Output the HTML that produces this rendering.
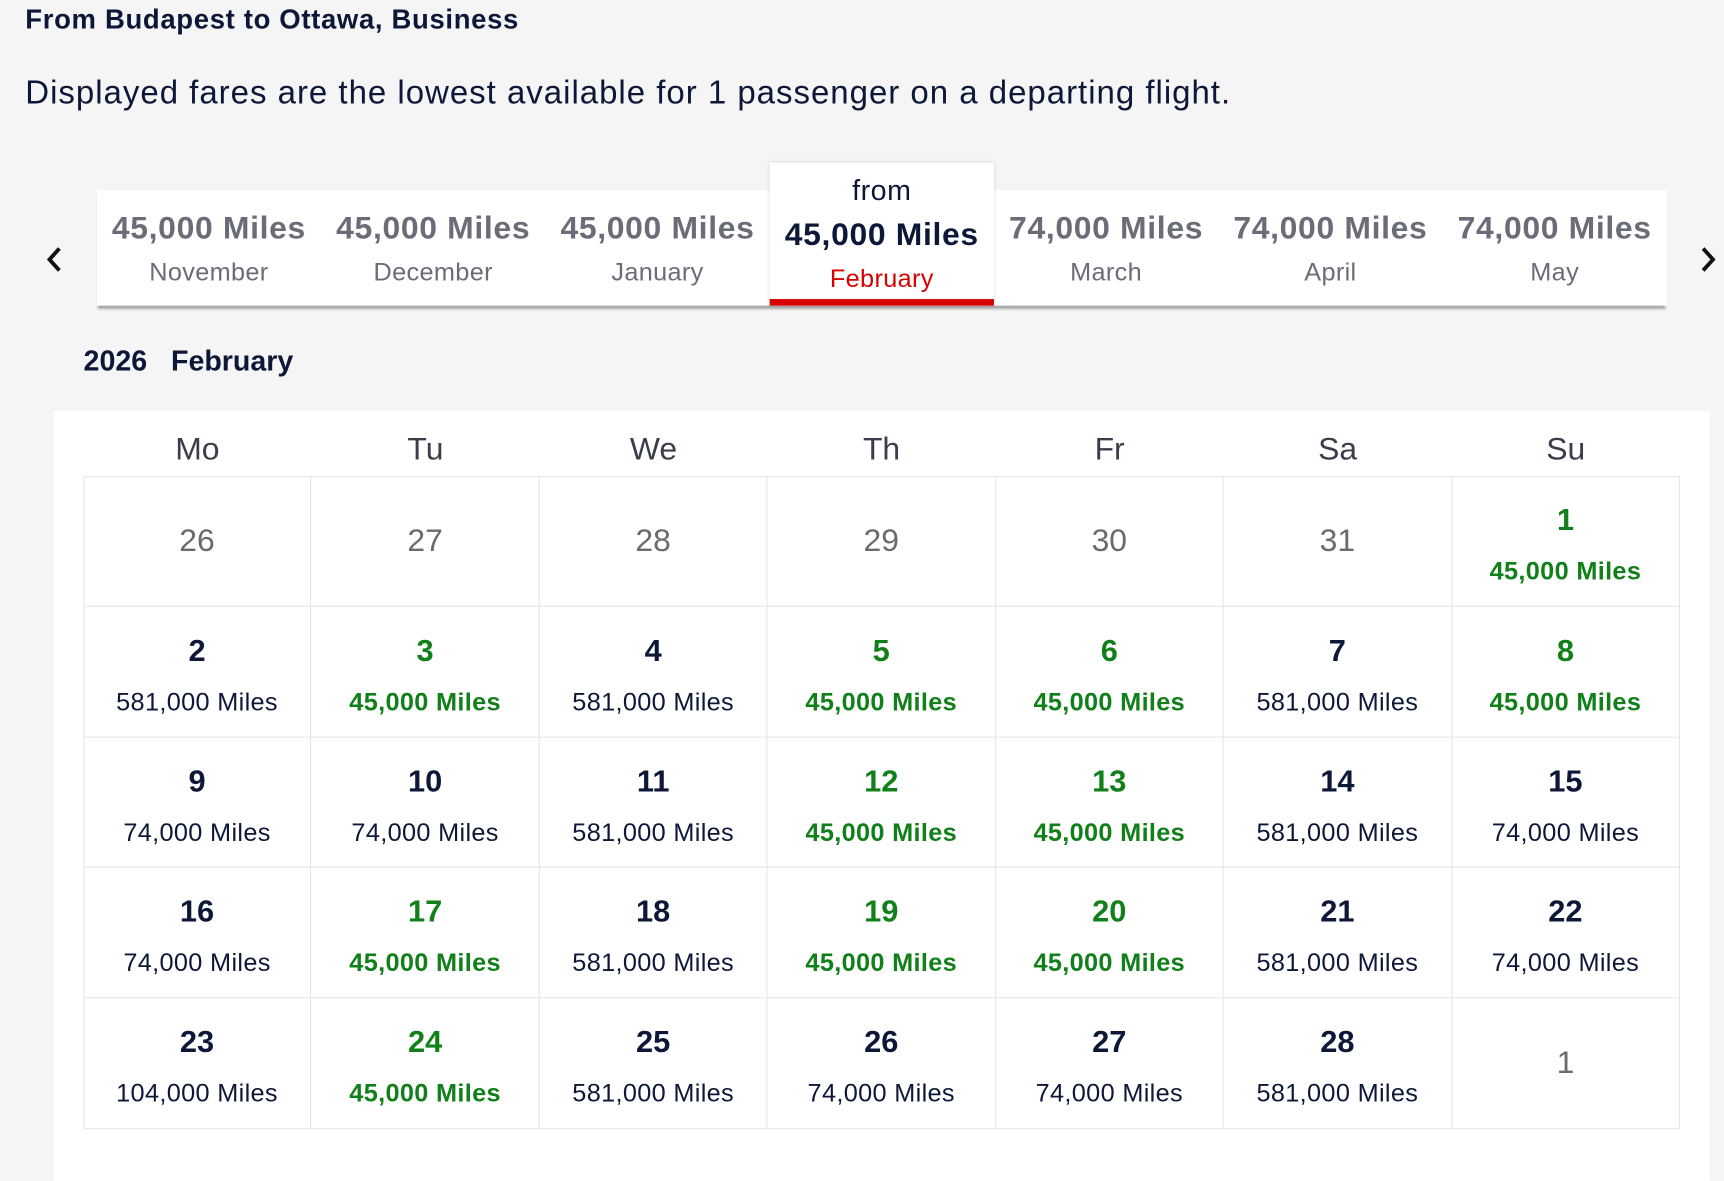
<!DOCTYPE html>
<html><head><meta charset="utf-8">
<style>
html,body{margin:0;padding:0;background:#f5f5f5;width:1724px;height:1158px;overflow:hidden;font-family:"Liberation Sans",sans-serif;}
#wrap{position:absolute;left:0;top:0;width:1568px;height:1053px;transform:scale(1.09949);transform-origin:0 0;}
.abs{position:absolute;}
.navy{color:#0d1738;}
.green{color:#11801a;}
.tab{position:absolute;top:173px;width:204px;height:105px;text-align:center;}
.tab .m{position:absolute;left:0;right:0;top:19px;font-size:29px;font-weight:bold;color:#6a6d78;letter-spacing:0.6px;white-space:nowrap;}
.tab .n{position:absolute;left:0;right:0;top:61px;font-size:23px;color:#6a6d78;letter-spacing:0.3px;}
.cell{position:absolute;text-align:center;box-sizing:border-box;border-right:1px solid #e6e6e6;border-bottom:1px solid #e6e6e6;}
.cell .d{position:absolute;left:0;right:0;top:24px;font-size:28px;font-weight:bold;}
.cell .p{position:absolute;left:0;right:0;top:73px;font-size:23px;letter-spacing:0.3px;white-space:nowrap;}
.cell .o{position:absolute;left:0;right:0;top:43px;font-size:29px;color:#6b6b6b;}
.dn{position:absolute;top:393px;width:207px;text-align:center;font-size:29px;color:#3a3d4a;}
</style></head><body>
<div id="wrap">
<div class="abs navy" style="left:23px;top:4px;font-size:25px;font-weight:bold;letter-spacing:0.6px;">From Budapest to Ottawa, Business</div>
<div class="abs navy" style="left:23px;top:68px;font-size:30px;letter-spacing:0.9px;">Displayed fares are the lowest available for 1 passenger on a departing flight.</div>

<div class="abs" style="left:88px;top:173px;width:1428px;height:105px;background:#fff;box-shadow:0 4px 2px -1px #a8a8a8;"></div>
<svg class="abs" style="left:40px;top:223px" width="20" height="28"><polyline points="14,3 5,13 14,23" fill="none" stroke="#111" stroke-width="3.5"/></svg>
<svg class="abs" style="left:1544px;top:223px" width="20" height="28"><polyline points="5,3 14,13 5,23" fill="none" stroke="#111" stroke-width="3.5"/></svg>

<div class="abs navy" style="left:76px;top:313px;font-size:26px;font-weight:bold;">2026&nbsp;&nbsp;&nbsp;February</div>

<div class="abs" style="left:49px;top:374px;width:1506px;height:700px;background:#fff;"></div>
</div>
<script>
const months=["November","December","January","February","March","April","May"];
const monthMiles=["45,000","45,000","45,000","45,000","74,000","74,000","74,000"];
const activeMonth=3;
const dayNames=["Mo","Tu","We","Th","Fr","Sa","Su"];
const prevDays=[26,27,28,29,30,31];
const fares=[45000,581000,45000,581000,45000,45000,581000,45000,74000,74000,581000,45000,45000,581000,74000,74000,45000,581000,45000,45000,581000,74000,104000,45000,581000,74000,74000,581000];
const low=45000;

const wrap=document.getElementById('wrap');
months.forEach((m,i)=>{
  const t=document.createElement('div');
  t.className='tab';
  
  
  t.style.left=(88+i*204)+'px';
  if(i===activeMonth){
    t.style.top='148px';t.style.height='130px';t.style.background='#fff';t.style.boxShadow='0 0 4px rgba(0,0,0,0.12)';t.style.left='700px';
    t.innerHTML='<div style="position:absolute;left:0;right:0;top:10px;font-size:26px;color:#0d1738;letter-spacing:0.5px">from</div><div class="m" style="top:50px;color:#0d1738">'+monthMiles[i]+' Miles</div><div class="n" style="top:92px;color:#d90000">'+m+'</div><div style="position:absolute;left:0;right:0;bottom:0;height:6px;background:#d90000"></div>';
  } else {
    if(i>activeMonth) t.style.left=(904+(i-activeMonth-1)*204)+'px';
    t.innerHTML='<div class="m">'+monthMiles[i]+' Miles</div><div class="n">'+m+'</div>';
  }
  wrap.appendChild(t);
});
const X0=76,CW=207.43,Y0=433,RH=118.8;
dayNames.forEach((d,i)=>{
  const e=document.createElement('div');e.className='dn';
  
  
  e.style.left=(X0+i*CW)+'px';e.textContent=d;wrap.appendChild(e);
});
const g=document.createElement('div');g.className='abs';


g.style.cssText='left:76px;top:433px;width:1452px;height:594px;border-top:1px solid #e6e6e6;border-left:1px solid #e6e6e6;box-sizing:border-box;';
wrap.appendChild(g);
const cells=[];
prevDays.forEach(d=>cells.push({o:d}));
fares.forEach((f,i)=>cells.push({d:i+1,f:f}));
cells.push({o:1});
cells.forEach((c,k)=>{
  const r=Math.floor(k/7),col=k%7;
  const e=document.createElement('div');e.className='cell';
  e.style.left=(X0+col*CW)+'px';e.style.top=(Y0+r*RH)+'px';e.style.width=CW+'px';e.style.height=RH+'px';
  if(c.o!==undefined){
    
    
    e.innerHTML='<div class="o">'+c.o+'</div>';
  } else {
    
    
    const cls=c.f===low?'green':'navy';
    e.innerHTML='<div class="d '+cls+'">'+c.d+'</div><div class="p '+cls+'"'+(c.f===low?' style="font-weight:bold"':'')+'>'+c.f.toLocaleString('en-US')+' Miles</div>';
  }
  wrap.appendChild(e);
});
</script>
</body></html>
